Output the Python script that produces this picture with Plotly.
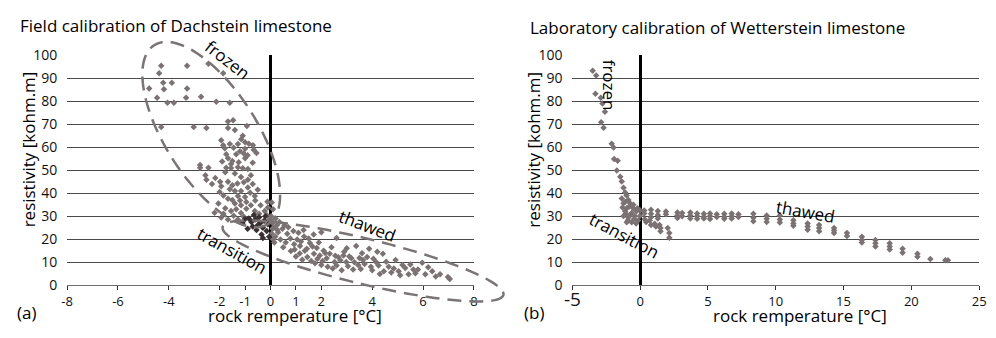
import numpy as np
import plotly.graph_objects as go

# ---------------- data: (a) field calibration, Dachstein limestone ----------------
dach_x = [
    -4.3, -4.38, -3.28, -2.44, -1.86, -4.77, -4.22, -3.88, -4.19, -3.28,
    -4.46, -4.05, -3.8, -3.32, -2.73, -2.13, -1.6, -4.3, -3.02, -2.52,
    -1.67, -1.47, -1.67, -1.4, -0.93, -1.09, -1.94, -1.86, -1.6, -1.28,
    -1.0, -0.69, -0.66, -1.0, -1.74, -1.67, -1.35, -1.05, -1.0, -1.55,
    -0.7, -2.77, -2.44, -1.8, -1.45, -1.2, -0.85, -1.5, -1.25, -0.9,
    -0.55, -1.9, -1.15,
    -2.77, -1.74, -1.55, -1.28, -1.09, -0.89, -1.78, -1.4, -1.16, -0.77,
    -0.89, -2.56, -2.52, -2.17, -1.98, -1.67, -1.94, -1.6, -1.4, -1.16,
    -0.89, -1.28, -1.0, -0.62, -1.67, -1.4, -1.16, -0.77, -0.39, -0.12,
    -1.78, -1.55, -1.16, -0.62, -0.23, -1.94, -1.67, -1.28,
    -1.3, -1.05, -0.7, -1.5, -2.3, -2.0, -1.85, -0.8, -0.5, -1.5,
    -1.2, -0.95, -0.6, -2.05, -1.85, -1.35, -0.95, -0.45, -0.1, -2.2,
    -1.45, -1.05, -0.15, -0.05,
    0.05, 0.1, 0.03, 0.08, 0.12, 0.05, 0.1, 0.15, 0.2, 0.25, 0.3,
    0.08, 0.27, 0.47, 0.19, 0.39, 0.66, 0.78, 0.93, 1.05, 1.16,
    1.32, 1.43, 1.55, 1.71, 1.82, 1.94, 2.09, 2.21, 2.33, 2.52,
    2.67, 2.87, 2.98, 3.18, 3.37, 3.45, 3.64, 3.88, 3.95, 4.15,
    4.42, 4.46, 4.65, 4.92, 5.04, 5.19, 5.43, 5.62, 5.97, 6.09,
    6.36, 6.67, 6.98, 7.05, 5.8,
    0.35, 0.55, 0.7, 0.9, 1.1, 1.3, 0.5, 0.6, 0.8, 0.95,
    1.0, 1.15, 1.2, 1.25, 1.35, 1.45, 1.5, 1.6, 1.65, 1.75,
    1.85, 1.9, 2.0, 2.05, 2.15, 2.25, 2.4, 2.45, 2.55, 2.6,
    2.75, 2.8, 2.9, 3.05, 3.1, 3.25, 3.3, 3.5, 3.55, 3.7,
    3.8, 4.0, 4.05, 4.25, 4.3, 4.55, 4.75, 4.85, 5.1, 5.3,
    5.5, 5.7, 6.2, 6.5, 2.6, 2.0, 1.7, 3.0, 3.6, 4.2,
]
dach_y = [
    95.5, 92.2, 95.5, 96.3, 92.2, 85.6, 88.1, 88.1, 85.2, 85.6,
    81.5, 79.4, 79.4, 81.5, 82.0, 79.8, 79.4, 68.8, 68.8, 68.4,
    71.2, 71.7, 68.4, 67.5, 69.2, 65.0, 63.0, 60.9, 61.4, 61.4,
    62.2, 60.9, 58.9, 59.3, 56.9, 55.2, 56.9, 57.3, 55.2, 52.7,
    53.2, 51.1, 51.1, 59.5, 59.8, 58.2, 61.5, 54.0, 53.5, 56.5,
    57.5, 53.8, 63.5,
    52.3, 51.1, 51.0, 51.3, 50.8, 50.5, 49.1, 48.6, 47.0, 47.8,
    45.8, 47.8, 45.8, 46.6, 45.0, 45.0, 43.0, 41.7, 40.9, 40.9,
    42.5, 38.8, 38.3, 38.8, 37.6, 35.5, 34.7, 34.7, 34.7, 36.3,
    33.5, 32.2, 31.4, 32.2, 32.2, 29.4, 28.5, 28.5,
    44.2, 44.8, 44.0, 43.5, 44.0, 40.5, 39.0, 40.2, 41.5, 37.0,
    36.8, 36.2, 36.8, 35.5, 31.0, 33.0, 33.2, 31.0, 33.8, 31.5,
    30.2, 29.8, 30.5, 28.5,
    36.0, 33.0, 30.0, 27.0, 25.0, 22.5, 20.0, 18.5, 29.0, 26.0, 23.0,
    24.5, 24.0, 24.5, 21.1, 19.9, 22.4, 20.3, 17.8, 19.9, 17.0,
    21.1, 15.8, 18.3, 13.7, 16.2, 12.9, 15.0, 11.7, 13.7, 10.1,
    12.1, 12.9, 10.1, 11.7, 17.0, 8.8, 10.9, 15.8, 8.0, 10.1,
    13.7, 6.0, 8.0, 10.9, 6.0, 8.8, 4.7, 6.8, 9.7, 4.7,
    6.0, 4.7, 3.5, 2.7, 6.8,
    27.5, 26.0, 25.2, 23.5, 22.8, 24.0, 16.5, 18.5, 14.8, 15.5,
    12.5, 13.8, 19.0, 11.0, 15.0, 12.2, 20.3, 10.5, 16.8, 9.5,
    11.5, 18.5, 8.8, 10.5, 14.0, 8.0, 16.5, 7.2, 12.8, 8.5,
    10.8, 6.5, 14.5, 8.2, 12.5, 6.8, 10.0, 11.8, 7.0, 9.2,
    12.2, 6.5, 11.5, 8.5, 4.8, 10.2, 5.5, 7.2, 4.3, 7.5,
    9.0, 5.2, 7.8, 3.8, 20.5, 23.0, 22.0, 16.0, 13.9, 14.5,
]
# darker (overlapping) transition cluster
dark_x = [-0.85, -0.75, -0.6, -0.5, -0.4, -0.3, -0.25, -0.15, -0.1, -0.55,
          -0.7, -0.35, -0.05, -0.45, -1.1, -0.9, -0.2, -0.65, -1.0, -0.3]
dark_y = [29.0, 27.5, 28.5, 26.0, 27.0, 25.0, 28.0, 23.5, 26.5, 24.0,
          25.5, 22.0, 21.0, 29.5, 27.0, 24.5, 30.0, 30.5, 28.8, 20.5]

# ---------------- data: (b) laboratory calibration, Wetterstein limestone ----------------
wett_x = [
    -3.5, -3.25, -3.3, -2.9, -2.78, -2.6, -2.88, -2.7, -2.1, -1.96,
    -1.92, -1.66, -1.72, -1.47, -1.36, -1.23, -1.11,
    -1.36, -1.11, -0.87, -1.23, -0.75, -0.99, -0.51, -1.11, -0.63, -0.27,
    -1.23, -0.87, -0.39, -0.02, -0.99, -0.63, -0.15, -1.0, -0.8, -0.5,
    -1.3, -0.2, -0.45, -0.75, -1.05, 0.0, -0.3, -0.9,
    0.34, 0.7, 1.07, 1.43, 1.5, 2.03, 2.15, 2.15, 0.44, 0.8, 1.16, 1.5,
    0.3, 0.3, 0.8, 0.8, 0.8, 1.3, 1.3, 1.3, 1.9, 1.9,
    2.75, 2.75, 2.75, 3.1, 3.1, 3.7, 3.7, 3.7, 4.2, 4.2, 4.2,
    4.7, 4.7, 4.7, 5.15, 5.15, 5.15, 5.65, 5.65, 6.2, 6.2, 6.2,
    6.75, 6.75, 6.75, 7.25, 7.25,
    8.35, 8.35, 8.35, 9.33, 9.33, 9.33, 10.3, 10.3, 10.3,
    11.3, 11.3, 11.3, 12.35, 12.35, 12.35, 13.2, 13.2, 13.2,
    14.3, 14.3, 14.3, 15.25, 15.25, 16.35, 16.35, 16.35,
    17.35, 17.35, 17.35, 18.4, 18.4, 18.4, 19.35, 19.35,
    20.45, 20.45, 21.4, 22.5, 22.7,
]
wett_y = [
    93.3, 91.2, 83.3, 81.5, 79.0, 75.4, 70.9, 68.5, 61.5, 59.9,
    54.9, 54.1, 49.9, 47.2, 45.1, 42.4, 40.3,
    37.7, 36.3, 37.0, 35.6, 35.6, 33.5, 33.5, 32.1, 31.4, 32.1,
    30.1, 29.4, 30.1, 30.1, 27.4, 27.4, 28.1, 39.0, 34.2, 35.0,
    33.8, 33.5, 28.8, 30.5, 31.0, 32.5, 26.8, 28.2,
    28.7, 28.1, 26.7, 26.2, 24.9, 24.8, 22.7, 20.6, 27.5, 26.2, 25.5, 23.4,
    32.5, 31.2, 32.8, 31.0, 29.5, 32.3, 30.5, 29.0, 32.0, 30.8,
    31.6, 30.3, 29.2, 31.4, 30.0, 31.6, 30.3, 29.0, 31.2, 30.0, 28.9,
    31.0, 29.8, 29.0, 31.2, 30.0, 28.8, 30.8, 29.6, 31.0, 29.8, 28.9,
    31.2, 30.0, 29.0, 30.8, 29.6,
    31.0, 29.3, 27.8, 30.3, 28.9, 27.5, 30.3, 28.5, 27.2,
    28.2, 26.8, 25.8, 26.8, 25.5, 24.1, 26.2, 24.8, 23.4,
    24.8, 23.8, 22.7, 22.7, 21.4, 21.0, 19.6, 18.5,
    19.6, 18.2, 16.8, 18.2, 16.8, 15.5, 15.8, 14.1,
    13.7, 12.3, 11.4, 10.8, 10.8,
]

left_ticks = [-8, -6, -4, -2, -1, 0, 1, 2, 4, 6, 8]
left_ticktext = ["-8", "-6", "-4", "-2", "-1", "0", "1", "2", "4", "6", "8"]
right_ticks = [-5, 0, 5, 10, 15, 20, 25]
right_ticktext = ['<span style="font-size:19px">-5</span>', "0", "5", "10", "15", "20", "25"]
y_ticks = [0, 10, 20, 30, 40, 50, 60, 70, 80, 90, 100]

# ---------------- layout geometry (window pixels) ----------------
W, H = 996, 338
L_DOM = (60, 473)
R_DOM = (573, 986)
Y_TOP, Y_BOT = 48, 291.5
L_RANGE = (-8, 8)
R_RANGE = (-5, 25)
Y_RANGE = (0, 100)

FONT = "Open Sans"
PT_COLOR = "#7b7273"
DARK_COLOR = "#3a2f33"
GRID = "#4a4a4a"


def px2paper_x(px):
    return px / W


def px2paper_y(py):
    return 1 - py / H


def to_px(x, y, dom, xr):
    px = dom[0] + (x - xr[0]) / (xr[1] - xr[0]) * (dom[1] - dom[0])
    py = Y_BOT - (y - Y_RANGE[0]) / (Y_RANGE[1] - Y_RANGE[0]) * (Y_BOT - Y_TOP)
    return px, py


def ellipse_path(cx, cy, a, b, ang, dom, xr):
    pcx, pcy = to_px(cx, cy, dom, xr)
    th = np.radians(ang)
    t = np.linspace(0, 2 * np.pi, 121)
    ex = pcx + a * np.cos(t) * np.cos(th) - b * np.sin(t) * np.sin(th)
    ey = pcy + a * np.cos(t) * np.sin(th) + b * np.sin(t) * np.cos(th)
    pts = [f"{px2paper_x(x):.5f},{px2paper_y(y):.5f}" for x, y in zip(ex, ey)]
    return "M " + " L ".join(pts) + " Z"


fig = go.Figure()
fig.add_trace(go.Scatter(x=dach_x, y=dach_y, mode="markers", xaxis="x", yaxis="y",
                         marker=dict(symbol="diamond", size=5, color=PT_COLOR),
                         showlegend=False, hoverinfo="skip"))
fig.add_trace(go.Scatter(x=dark_x, y=dark_y, mode="markers", xaxis="x", yaxis="y",
                         marker=dict(symbol="diamond", size=5, color=DARK_COLOR),
                         showlegend=False, hoverinfo="skip"))
fig.add_trace(go.Scatter(x=wett_x, y=wett_y, mode="markers", xaxis="x2", yaxis="y2",
                         marker=dict(symbol="diamond", size=5, color=PT_COLOR),
                         showlegend=False, hoverinfo="skip"))

ydom = [px2paper_y(Y_BOT), px2paper_y(Y_TOP)]
xcommon = dict(showgrid=False, zeroline=True, zerolinecolor="black", zerolinewidth=2.5,
               showline=True, linecolor="#6e6e6e", linewidth=1,
               ticks="outside", ticklen=4, tickcolor="#333", tickwidth=1,
               tickfont=dict(family=FONT, size=13, color="#111"), tickmode="array")
ycommon = dict(range=list(Y_RANGE), tickmode="array", tickvals=y_ticks,
               showgrid=True, gridcolor=GRID, gridwidth=1, zeroline=False,
               showline=False, ticks="outside", ticklen=6, tickcolor="rgba(0,0,0,0)",
               tickfont=dict(family=FONT, size=14, color="#111"), domain=ydom)

fig.update_layout(
    width=W, height=H, margin=dict(l=0, r=0, t=0, b=0),
    paper_bgcolor="white", plot_bgcolor="white",
    xaxis=dict(domain=[px2paper_x(L_DOM[0]), px2paper_x(L_DOM[1])], range=list(L_RANGE),
               anchor="y", tickvals=left_ticks, ticktext=left_ticktext, **xcommon),
    yaxis=dict(anchor="x", **ycommon),
    xaxis2=dict(domain=[px2paper_x(R_DOM[0]), px2paper_x(R_DOM[1])], range=list(R_RANGE),
                anchor="y2", tickvals=right_ticks, ticktext=right_ticktext, **xcommon),
    yaxis2=dict(anchor="x2", **ycommon),
)

dash_line = dict(color="#7a7474", width=2.5, dash="14px,8px")
fig.add_shape(type="path", xref="paper", yref="paper", layer="above",
              path=ellipse_path(-2.33, 65.5, 111, 47, 59, L_DOM, L_RANGE), line=dash_line)
fig.add_shape(type="path", xref="paper", yref="paper", layer="above",
              path=ellipse_path(3.64, 10.5, 147, 24, 14.2, L_DOM, L_RANGE), line=dash_line)

txt = dict(family=FONT, size=17, color="black")
ann = [
    dict(text="Field calibration of Dachstein limestone", px=10, py=16, xanchor="left",
         textangle=0),
    dict(text="Laboratory calibration of Wetterstein limestone", px=528, py=19,
         xanchor="left", textangle=0),
    dict(text="resistivity [kohm.m]", px=21, py=148, xanchor="center", textangle=-90),
    dict(text="resistivity [kohm.m]", px=534, py=148, xanchor="center", textangle=-90),
    dict(text="rock remperature [°C]", px=291, py=324, xanchor="center", textangle=0),
    dict(text="rock remperature [°C]", px=804, py=324, xanchor="center", textangle=0),
    dict(text="(a)", px=7, py=320, xanchor="left", textangle=0),
    dict(text="(b)", px=522, py=320, xanchor="left", textangle=0),
]
for a in ann:
    fig.add_annotation(text=a["text"], x=px2paper_x(a["px"]), y=px2paper_y(a["py"]),
                       xref="paper", yref="paper", showarrow=False, xanchor=a["xanchor"],
                       yanchor="middle", textangle=a["textangle"], font=txt)

labels = [
    ("x", "y", "frozen", -1.7, 98, 38),
    ("x", "y", "thawed", 3.8, 26, 21),
    ("x", "y", "transition", -1.5, 15, 29),
    ("x2", "y2", "frozen", -2.3, 86.8, 90),
    ("x2", "y2", "thawed", 12.2, 32, 10),
    ("x2", "y2", "transition", -1.16, 21.4, 28),
]
for xr_, yr_, t, x, y, ang in labels:
    fig.add_annotation(text=t, x=x, y=y, xref=xr_, yref=yr_, showarrow=False,
                       textangle=ang, xanchor="center", yanchor="middle", font=txt)

# pin the figure to the window's top-left corner so that it fills the 996x338 window
pin = ("var gd=document.getElementById('{plot_id}');"
       "gd.style.position='fixed';gd.style.left='0px';gd.style.top='0px';"
       "document.body.style.margin='0px';"
       "document.documentElement.style.overflow='hidden';"
       "document.body.style.overflow='hidden';")
fig.write_html("out.html", config={"displayModeBar": False}, post_script=pin)
